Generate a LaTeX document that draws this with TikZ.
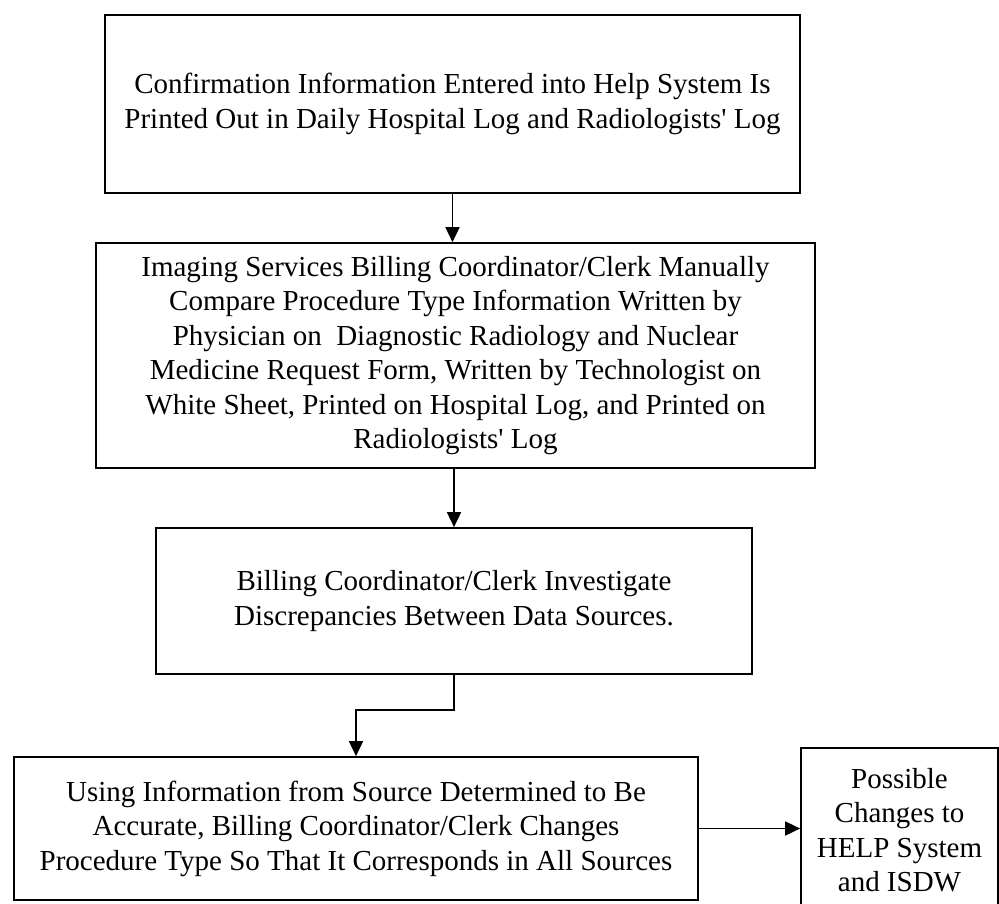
\documentclass[tikz,border=0pt]{standalone}
\usepackage{fontspec}
\setmainfont{Liberation Serif}[Ligatures=TeXOff]
\usetikzlibrary{arrows.meta}

\tikzset{
  stepbox/.style={draw=black, line width=1.7pt, align=center, inner sep=0pt,
    font=\fontsize{29}{34.5}\selectfont},
  arr/.style={draw=black, line width=1.7pt,
    -{Triangle[length=15pt,width=14pt]}}
}

\begin{document}
\begin{tikzpicture}[x=1pt,y=-1pt]
  \useasboundingbox (0,0) rectangle (999,903);
  \clip (0,0) rectangle (999,903);

  % process steps, top to bottom
  \node[stepbox, minimum width=695pt, minimum height=178pt] (print) at (452.5,104)
    {Confirmation Information Entered into Help System Is\\
     Printed Out in Daily Hospital Log and Radiologists' Log};

  \node[stepbox, minimum width=719pt, minimum height=225pt] (compare) at (455.5,355.5)
    {Imaging Services Billing Coordinator/Clerk Manually\\
     Compare Procedure Type Information Written by\\
     Physician on\ \ Diagnostic Radiology and Nuclear\\
     Medicine Request Form, Written by Technologist on\\
     White Sheet, Printed on Hospital Log, and Printed on\\
     Radiologists' Log};

  \node[stepbox, minimum width=596pt, minimum height=146pt] (investigate) at (454,601)
    {Billing Coordinator/Clerk Investigate\\
     Discrepancies Between Data Sources.};

  \node[stepbox, minimum width=684pt, minimum height=143pt] (correct) at (356,828.5)
    {Using Information from Source Determined to Be\\
     Accurate, Billing Coordinator/Clerk Changes\\
     Procedure Type So That It Corresponds in All Sources};

  \node[stepbox, minimum width=197pt, minimum height=164pt] (changes) at (899.5,830)
    {Possible\\ Changes to\\ HELP System\\ and ISDW};

  % connectors
  \draw[arr] (print.south) -- (print.south |- compare.north);
  \draw[arr] (compare.south -| investigate.south) -- (investigate.north);
  \draw[arr] (investigate.south) -- ++(0,35) -| (correct.north);
  \draw[arr] (correct.east) -- (correct.east -| changes.west);
\end{tikzpicture}
\end{document}
